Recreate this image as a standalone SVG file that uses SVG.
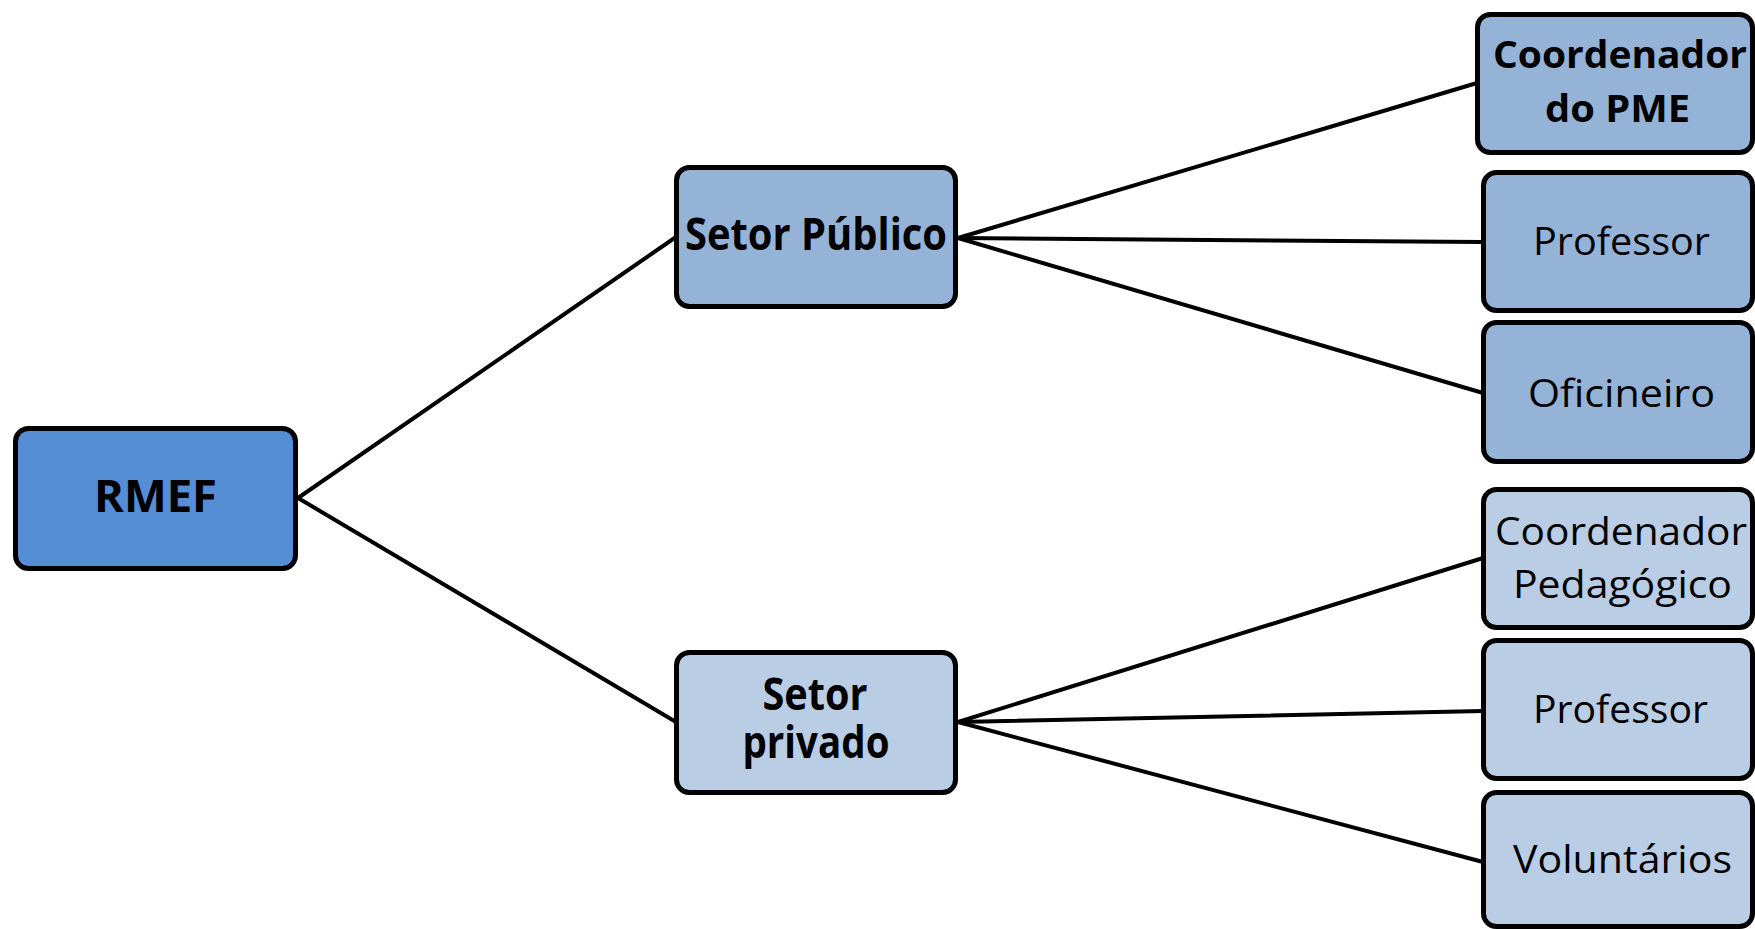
<svg xmlns="http://www.w3.org/2000/svg" width="1755" height="929" viewBox="0 0 1755 929">
  <style>
    .box { stroke: #000; stroke-width: 5; }
    .root { fill: #558ED5; }
    .pub { fill: #95B3D7; }
    .priv { fill: #B9CDE5; }
    .edge { stroke: #000; stroke-width: 4; fill: none; stroke-linecap: round; }
    .lbl { font-family: "Open Sans", "Noto Sans", sans-serif; fill: #000; text-anchor: middle; }
    .big { font-size: 44px; font-weight: bold; }
    .sm { font-size: 39px; }
    .smb { font-size: 38px; font-weight: bold; }
  </style>

  <!-- connectors -->
  <g id="connectors">
    <line class="edge" x1="298" y1="498" x2="676" y2="237"/>
    <line class="edge" x1="298" y1="498" x2="676" y2="722"/>
    <line class="edge" x1="958" y1="238" x2="1477" y2="83"/>
    <line class="edge" x1="958" y1="238" x2="1483" y2="242"/>
    <line class="edge" x1="958" y1="238" x2="1483" y2="393"/>
    <line class="edge" x1="958" y1="722" x2="1483" y2="558"/>
    <line class="edge" x1="958" y1="722" x2="1483" y2="711"/>
    <line class="edge" x1="958" y1="722" x2="1483" y2="862"/>
  </g>

  <!-- root -->
  <g id="rmef">
    <rect class="box root" x="15.5" y="428.5" width="280" height="140" rx="13"/>
    <text class="lbl big" x="155.5" y="512" textLength="123" lengthAdjust="spacingAndGlyphs">RMEF</text>
  </g>

  <!-- sectors -->
  <g id="setor-publico">
    <rect class="box pub" x="676.5" y="167.5" width="279" height="139" rx="13"/>
    <text class="lbl big" x="816" y="250" textLength="262" lengthAdjust="spacingAndGlyphs">Setor Público</text>
  </g>
  <g id="setor-privado">
    <rect class="box priv" x="676.5" y="652.5" width="279" height="140" rx="13"/>
    <text class="lbl big" x="815" y="710" textLength="105" lengthAdjust="spacingAndGlyphs">Setor</text>
    <text class="lbl big" x="816" y="758" textLength="147" lengthAdjust="spacingAndGlyphs">privado</text>
  </g>

  <!-- public sector roles -->
  <g id="coordenador-pme">
    <rect class="box pub" x="1477.5" y="14.5" width="275" height="138" rx="13"/>
    <text class="lbl smb" x="1620" y="68" textLength="254" lengthAdjust="spacingAndGlyphs">Coordenador</text>
    <text class="lbl smb" x="1617.5" y="122" textLength="145" lengthAdjust="spacingAndGlyphs">do PME</text>
  </g>
  <g id="professor-publico">
    <rect class="box pub" x="1483.5" y="172.5" width="269" height="138" rx="13"/>
    <text class="lbl sm" x="1621.5" y="255" textLength="177" lengthAdjust="spacingAndGlyphs">Professor</text>
  </g>
  <g id="oficineiro">
    <rect class="box pub" x="1483.5" y="322.5" width="269" height="139" rx="13"/>
    <text class="lbl sm" x="1621.5" y="407" textLength="187" lengthAdjust="spacingAndGlyphs">Oficineiro</text>
  </g>

  <!-- private sector roles -->
  <g id="coordenador-pedagogico">
    <rect class="box priv" x="1483.5" y="489.5" width="269" height="138" rx="13"/>
    <text class="lbl sm" x="1621" y="545" textLength="252" lengthAdjust="spacingAndGlyphs">Coordenador</text>
    <text class="lbl sm" x="1622.5" y="598" textLength="219" lengthAdjust="spacingAndGlyphs">Pedagógico</text>
  </g>
  <g id="professor-privado">
    <rect class="box priv" x="1483.5" y="640.5" width="269" height="138" rx="13"/>
    <text class="lbl sm" x="1620.5" y="723" textLength="175" lengthAdjust="spacingAndGlyphs">Professor</text>
  </g>
  <g id="voluntarios">
    <rect class="box priv" x="1483.5" y="792.5" width="269" height="134" rx="13"/>
    <text class="lbl sm" x="1622.5" y="873" textLength="219" lengthAdjust="spacingAndGlyphs">Voluntários</text>
  </g>
</svg>
